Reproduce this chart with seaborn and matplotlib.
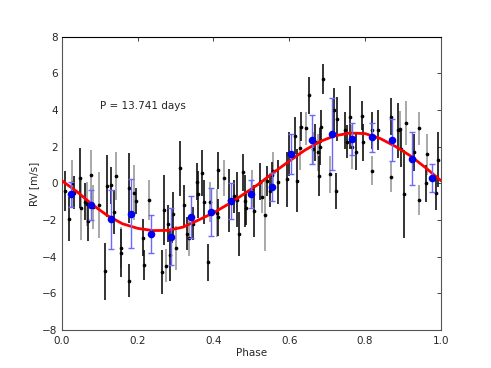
import numpy as np
import pandas as pd
import matplotlib
matplotlib.use("Agg")
import matplotlib.pyplot as plt
import seaborn as sns

# ---- individual RV measurements (phase, rv, error, instrument) ----
phase_a = [0.009, 0.018, 0.033, 0.049, 0.060, 0.069, 0.113, 0.120, 0.130, 0.137,
           0.155, 0.176, 0.178, 0.195, 0.214, 0.217, 0.265, 0.270, 0.280, 0.286,
           0.291, 0.293, 0.312, 0.321, 0.330, 0.346, 0.356, 0.358, 0.369, 0.376,
           0.386, 0.412, 0.413, 0.440, 0.454, 0.463, 0.466, 0.477, 0.484, 0.486,
           0.508, 0.524, 0.540, 0.549, 0.554, 0.570, 0.593, 0.598, 0.615, 0.620,
           0.631, 0.652, 0.669, 0.678, 0.682, 0.684, 0.690, 0.719, 0.722, 0.726,
           0.747, 0.752, 0.759, 0.775, 0.792, 0.794, 0.818, 0.834, 0.867, 0.887,
           0.894, 0.903, 0.929, 0.960, 0.987, 0.992]
rv_a = [-0.42, -1.95, -0.50, 0.30, -1.00, -2.05, -4.80, -0.13, -0.10, -1.55,
        -3.80, -5.30, -0.24, -0.96, -2.96, -4.45, -4.85, -1.45, -2.20, -3.90,
        -2.45, -1.65, 0.82, -1.20, -2.75, -2.20, 0.10, -0.60, 0.55, -1.00,
        -4.30, -1.85, 0.72, -0.93, -0.70, -0.90, -2.78, 0.60, -0.95, -1.36,
        -1.50, 0.10, 0.13, -0.40, 0.45, 0.10, 0.24, 1.58, 2.60, 0.16,
        3.10, 4.80, 2.24, 0.42, 2.00, 3.10, 5.70, 4.00, -0.42, 3.50,
        2.90, 2.27, 3.60, 1.73, 3.70, 2.24, 2.90, 2.90, 3.65, 2.90,
        1.90, -0.56, 1.70, 0.00, -0.53, 1.30]
err_a = [1.1, 1.2, 0.9, 1.65, 1.0, 1.1, 1.55, 1.7, 1.0, 1.2,
         1.3, 0.9, 1.9, 0.7, 1.0, 0.8, 1.2, 1.9, 1.0, 1.4,
         0.8, 1.2, 1.5, 1.1, 0.9, 0.9, 1.0, 1.3, 1.25, 1.2,
         1.0, 1.0, 1.0, 1.7, 0.9, 1.5, 1.2, 1.0, 1.4, 0.9,
         1.4, 1.0, 0.8, 0.9, 0.7, 1.2, 1.5, 1.2, 1.0, 1.7,
         0.8, 1.0, 1.0, 1.1, 1.0, 0.9, 0.8, 1.2, 1.0, 1.2,
         1.0, 0.9, 1.7, 1.0, 0.8, 1.0, 1.0, 1.1, 1.0, 1.5,
         1.0, 2.4, 1.0, 1.0, 0.9, 1.5]

phase_b = [0.028, 0.051, 0.065, 0.076, 0.083, 0.099, 0.143, 0.155, 0.190, 0.229,
           0.274, 0.302, 0.335, 0.390, 0.408, 0.429, 0.501, 0.527, 0.536, 0.557,
           0.627, 0.643, 0.662, 0.675, 0.708, 0.765, 0.818, 0.867, 0.892, 0.909,
           0.941, 0.941, 0.964]
rv_b = [0.00, -1.36, -1.10, 0.45, -1.30, -1.20, 0.42, -3.50, -0.50, -0.90,
        -4.50, -3.50, -2.95, -1.00, -1.60, 0.30, -0.27, -0.73, -1.70, 0.70,
        1.95, 3.00, 1.90, 1.70, 0.50, 2.00, 0.70, 0.35, 2.95, 3.30,
        3.00, -0.90, 1.58]
err_b = [1.3, 1.7, 1.2, 1.4, 1.2, 1.8, 1.3, 1.1, 1.5, 1.1,
         0.9, 1.2, 1.0, 1.1, 1.3, 1.0, 1.0, 0.9, 2.0, 1.0,
         1.2, 0.9, 0.9, 1.0, 1.0, 1.2, 0.8, 0.8, 1.0, 1.2,
         0.9, 0.8, 1.1]

# ---- binned averages ----
bin_phase = [0.024, 0.077, 0.129, 0.182, 0.235, 0.288, 0.340, 0.393, 0.446, 0.499,
             0.554, 0.604, 0.660, 0.712, 0.765, 0.818, 0.871, 0.923, 0.976]
bin_rv = [-0.60, -1.18, -1.96, -1.64, -2.75, -2.91, -1.85, -1.55, -0.95, -0.58,
          -0.19, 1.60, 2.38, 2.71, 2.42, 2.51, 2.36, 1.36, 0.29]
bin_err = [0.7, 0.8, 1.6, 1.9, 1.05, 1.55, 1.15, 1.3, 1.0, 0.75,
           0.75, 1.1, 1.33, 1.97, 0.87, 0.8, 1.15, 1.47, 0.78]

# ---- model curve ----
model_phase = [0.00, 0.04, 0.08, 0.12, 0.16, 0.20, 0.24, 0.28, 0.32, 0.36,
               0.40, 0.44, 0.48, 0.52, 0.56, 0.60, 0.64, 0.68, 0.72, 0.76,
               0.80, 0.84, 0.88, 0.92, 0.96, 1.00]
model_rv = [0.15, -0.45, -1.15, -1.75, -2.20, -2.45, -2.57, -2.56, -2.38, -2.00,
            -1.60, -1.12, -0.58, -0.02, 0.62, 1.22, 1.80, 2.28, 2.60, 2.75,
            2.72, 2.45, 2.02, 1.50, 0.85, 0.15]

period_label = "P = 13.741 days"
xticks = [0.0, 0.2, 0.4, 0.6, 0.8, 1.0]
yticks = [-8, -6, -4, -2, 0, 2, 4, 6, 8]

sns.set_style("white")
plt.rcParams['font.family'] = ['DejaVu Sans']
plt.rcParams['font.size'] = 7.5

df_a = pd.DataFrame({"phase": phase_a, "rv": rv_a, "err": err_a})
df_b = pd.DataFrame({"phase": phase_b, "rv": rv_b, "err": err_b})
df_bin = pd.DataFrame({"phase": bin_phase, "rv": bin_rv, "err": bin_err})
df_mod = pd.DataFrame({"phase": model_phase, "rv": model_rv})

fig = plt.figure(figsize=(4.91, 3.68), dpi=100)
ax = fig.add_axes([0.126, 0.103, 0.772, 0.797])

ax.errorbar(df_b["phase"], df_b["rv"], yerr=df_b["err"], fmt="none",
            ecolor="#9a9a9a", elinewidth=1.2, zorder=2)
ax.errorbar(df_a["phase"], df_a["rv"], yerr=df_a["err"], fmt="none",
            ecolor="#111111", elinewidth=1.2, zorder=2)
sns.scatterplot(data=pd.concat([df_a, df_b]), x="phase", y="rv", ax=ax,
                color="black", s=7, linewidth=0, zorder=3, legend=False)

sns.lineplot(data=df_mod, x="phase", y="rv", ax=ax, color="red",
             linewidth=2.0, zorder=4, sort=True)

ax.errorbar(df_bin["phase"], df_bin["rv"], yerr=df_bin["err"], fmt="none",
            ecolor="#6a6aff", elinewidth=1.0, capsize=2.2, capthick=1.0, zorder=5)
sns.scatterplot(data=df_bin, x="phase", y="rv", ax=ax, color="#0000ee",
                s=30, linewidth=0, zorder=6, legend=False)

ax.text(0.1, 4.2, period_label, fontsize=7.5, va="center", ha="left")

ax.set_xlim(0, 1)
ax.set_ylim(-8, 8)
ax.set_xticks(xticks)
ax.set_yticks(yticks)
ax.set_xlabel("Phase", fontsize=7.5, labelpad=2)
ax.set_ylabel("RV [m/s]", fontsize=7.5, labelpad=2)
ax.tick_params(direction="in", top=True, right=True, length=3, width=0.6,
               labelsize=7.5)
ax.tick_params(axis="x", pad=4)
ax.tick_params(axis="y", pad=3)
for sp in ax.spines.values():
    sp.set_visible(True)
    sp.set_color("#555555")
    sp.set_linewidth(0.8)
ax.spines["top"].set_color("black")

fig.savefig("out.png", dpi=100)
